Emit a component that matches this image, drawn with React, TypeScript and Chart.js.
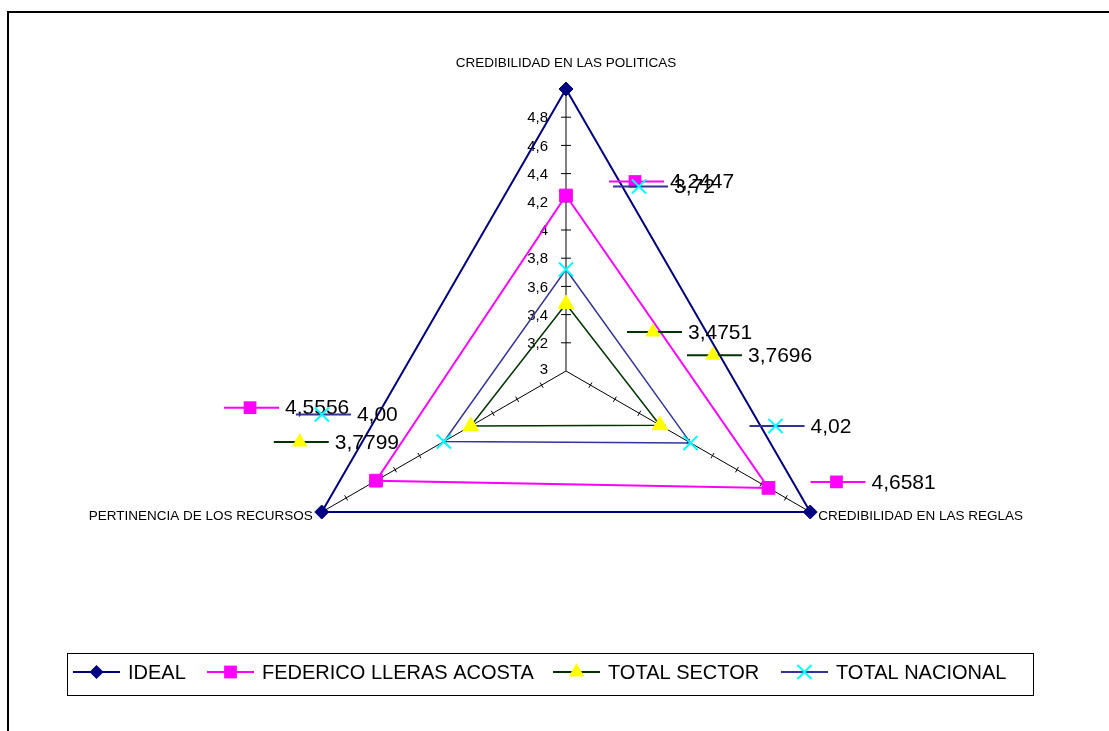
import React, { useEffect, useRef } from 'react';
import { Chart, registerables } from 'chart.js';

Chart.register(...registerables);

// ---------- data ----------
const categories = ['CREDIBILIDAD EN LAS POLITICAS', 'CREDIBILIDAD EN LAS REGLAS', 'PERTINENCIA DE LOS RECURSOS'];
const seriesNames = ['IDEAL', 'FEDERICO LLERAS ACOSTA', 'TOTAL SECTOR', 'TOTAL NACIONAL'];
const ideal = [5, 5, 5];
const federico = [4.2447, 4.6581, 4.5556];
const totalSector = [3.4751, 3.7696, 3.7799];
const totalNacional = [3.72, 4.02, 4.0];
const tickValues = [3, 3.2, 3.4, 3.6, 3.8, 4, 4.2, 4.4, 4.6, 4.8];
const labelDecimals = [null, 4, 4, 2];

// ---------- styles / layout ----------
type Style = { line: string; width: number; marker: string; fill: string; stroke: string; pointStyle: string; radius: number; pbw: number };
const styles: Style[] = [
  { line: '#000080', width: 2, marker: 'diamond', fill: '#000080', stroke: '#000080', pointStyle: 'rectRot', radius: 7, pbw: 1 },
  { line: '#FF00FF', width: 2, marker: 'square', fill: '#FF00FF', stroke: '#FF00FF', pointStyle: 'rect', radius: 9, pbw: 1 },
  { line: '#003300', width: 1.5, marker: 'triangle', fill: '#FFFF00', stroke: '#FFFF00', pointStyle: 'triangle', radius: 9, pbw: 1 },
  { line: '#333399', width: 1.5, marker: 'x', fill: '#00FFFF', stroke: '#00FFFF', pointStyle: 'crossRot', radius: 10, pbw: 2 },
];
// offsets (px) of each data-label key relative to its point, per dataset
const labelOffsets: (number[][] | null)[] = [
  null,
  [[69, -14], [68, -6], [-126, -73]],
  [[87, 28], [53, -70], [-171, 16]],
  [[73, -83], [85, -17], [-122, -27]],
];
const legendX = [73, 207, 553, 781];
const FONT = '"Liberation Sans", Arial, sans-serif';

function fmt(v: number, d: number | null) {
  const s = d == null ? String(Math.round(v * 10) / 10) : v.toFixed(d);
  return s.replace('.', ',');
}

function drawMarker(ctx: CanvasRenderingContext2D, s: Style, x: number, y: number) {
  ctx.save();
  ctx.beginPath();
  if (s.marker === 'diamond') {
    const r = s.radius;
    ctx.moveTo(x, y - r); ctx.lineTo(x + r, y); ctx.lineTo(x, y + r); ctx.lineTo(x - r, y); ctx.closePath();
    ctx.fillStyle = s.fill; ctx.fill();
  } else if (s.marker === 'square') {
    const h = s.radius * Math.SQRT1_2;
    ctx.rect(x - h, y - h, 2 * h, 2 * h);
    ctx.fillStyle = s.fill; ctx.fill();
  } else if (s.marker === 'triangle') {
    const r = s.radius;
    ctx.moveTo(x, y - r);
    ctx.lineTo(x + r * 0.866, y + r * 0.5);
    ctx.lineTo(x - r * 0.866, y + r * 0.5);
    ctx.closePath();
    ctx.fillStyle = s.fill; ctx.fill();
  } else {
    const h = s.radius * Math.SQRT1_2;
    ctx.moveTo(x - h, y - h); ctx.lineTo(x + h, y + h);
    ctx.moveTo(x + h, y - h); ctx.lineTo(x - h, y + h);
    ctx.strokeStyle = s.stroke; ctx.lineWidth = 2; ctx.stroke();
  }
  ctx.restore();
}

function drawKey(ctx: CanvasRenderingContext2D, s: Style, x0: number, x1: number, mx: number, y: number) {
  ctx.save();
  ctx.beginPath();
  ctx.moveTo(x0, y); ctx.lineTo(x1, y);
  ctx.strokeStyle = s.line; ctx.lineWidth = 2; ctx.stroke();
  ctx.restore();
  drawMarker(ctx, s, mx, y);
}

const decorPlugin = {
  id: 'decor',
  beforeDatasetsDraw(chart: any) {
    const ctx: CanvasRenderingContext2D = chart.ctx;
    const r = chart.scales.r;
    ctx.save();
    // tick marks on each axis
    for (let i = 0; i < categories.length; i++) {
      const end = r.getPointPositionForValue(i, 5);
      const ang = Math.atan2(end.y - r.yCenter, end.x - r.xCenter);
      const px = -Math.sin(ang), py = Math.cos(ang);
      const len = i === 0 ? 5 : 3;
      ctx.strokeStyle = '#000';
      ctx.lineWidth = 1;
      for (const v of tickValues.slice(1)) {
        const p = r.getPointPositionForValue(i, v);
        ctx.beginPath();
        ctx.moveTo(p.x - px * len, p.y - py * len);
        ctx.lineTo(p.x + px * len, p.y + py * len);
        ctx.stroke();
      }
    }
    // tick labels on the vertical axis
    ctx.fillStyle = '#000';
    ctx.font = `15px ${FONT}`;
    ctx.textAlign = 'right';
    ctx.textBaseline = 'middle';
    for (const v of tickValues) {
      const p = r.getPointPositionForValue(0, v);
      const yy = v === 3 ? p.y - 2 : p.y;
      ctx.fillText(fmt(v, null), r.xCenter - 18, yy + 1);
    }
    ctx.restore();
  },
  afterDraw(chart: any) {
    const ctx: CanvasRenderingContext2D = chart.ctx;
    const r = chart.scales.r;
    ctx.save();
    // frame
    ctx.strokeStyle = '#000';
    ctx.lineWidth = 2;
    ctx.beginPath();
    ctx.moveTo(8, 731); ctx.lineTo(8, 12); ctx.lineTo(1109, 12);
    ctx.stroke();

    // category labels
    ctx.fillStyle = '#000';
    ctx.font = `13.5px ${FONT}`;
    ctx.textBaseline = 'middle';
    const p0 = r.getPointPositionForValue(0, 5);
    ctx.textAlign = 'center';
    ctx.fillText(categories[0], p0.x, p0.y - 26);
    const p1 = r.getPointPositionForValue(1, 5);
    ctx.textAlign = 'left';
    ctx.fillText(categories[1], p1.x + 8, p1.y + 4);
    const p2 = r.getPointPositionForValue(2, 5);
    ctx.textAlign = 'right';
    ctx.fillText(categories[2], p2.x - 9, p2.y + 4);

    // data labels with keys
    ctx.font = `21px ${FONT}`;
    ctx.textAlign = 'left';
    for (let d = 1; d < chart.data.datasets.length; d++) {
      const offs = labelOffsets[d];
      if (!offs) continue;
      const meta = chart.getDatasetMeta(d);
      const vals = chart.data.datasets[d].data as number[];
      for (let i = 0; i < vals.length; i++) {
        const pt = meta.data[i];
        const mx = pt.x + offs[i][0];
        const my = pt.y + offs[i][1];
        drawKey(ctx, styles[d], mx - 26, mx + 29, mx, my);
        ctx.fillStyle = '#000';
        ctx.fillText(fmt(vals[i], labelDecimals[d]), mx + 35, my + 1);
      }
    }

    // legend
    ctx.strokeStyle = '#000';
    ctx.lineWidth = 1;
    ctx.strokeRect(67.5, 653.5, 966, 42);
    ctx.font = `20px ${FONT}`;
    ctx.textBaseline = 'middle';
    ctx.textAlign = 'left';
    const ly = 672;
    for (let d = 0; d < seriesNames.length; d++) {
      const x = legendX[d];
      drawKey(ctx, styles[d], x, x + 47, x + 23.5, ly);
      ctx.fillStyle = '#000';
      ctx.fillText(seriesNames[d], x + 55, ly + 1);
    }
    ctx.restore();
  },
};

export default function App() {
  const ref = useRef<HTMLCanvasElement | null>(null);
  useEffect(() => {
    if (!ref.current) return;
    const series = [ideal, federico, totalSector, totalNacional];
    const chart = new Chart(ref.current, {
      type: 'radar',
      data: {
        labels: categories,
        datasets: series.map((data, d) => ({
          label: seriesNames[d],
          data,
          fill: false,
          borderColor: styles[d].line,
          borderWidth: styles[d].width,
          backgroundColor: styles[d].fill,
          pointStyle: styles[d].pointStyle as any,
          pointRadius: styles[d].radius,
          pointHoverRadius: styles[d].radius,
          pointBackgroundColor: styles[d].fill,
          pointBorderColor: styles[d].stroke,
          pointBorderWidth: styles[d].pbw,
          tension: 0,
        })),
      },
      options: {
        animation: false,
        responsive: true,
        maintainAspectRatio: false,
        layout: { padding: { left: 284, right: 261, top: 89, bottom: 78 } },
        plugins: { legend: { display: false }, tooltip: { enabled: false } },
        scales: {
          r: {
            min: 3,
            max: 5,
            ticks: { display: false, stepSize: 0.2 },
            grid: { display: false },
            angleLines: {
              display: true,
              color: (c: any) => (c.index === 0 ? '#808080' : '#000000'),
              lineWidth: (c: any) => (c.index === 0 ? 2 : 1),
            },
            pointLabels: { display: false },
          },
        },
      },
      plugins: [decorPlugin],
    });
    return () => chart.destroy();
  }, []);
  return (
    <div style={{ position: 'absolute', left: 0, top: 0, width: 1109, height: 731, background: '#fff' }}>
      <canvas ref={ref} />
    </div>
  );
}
